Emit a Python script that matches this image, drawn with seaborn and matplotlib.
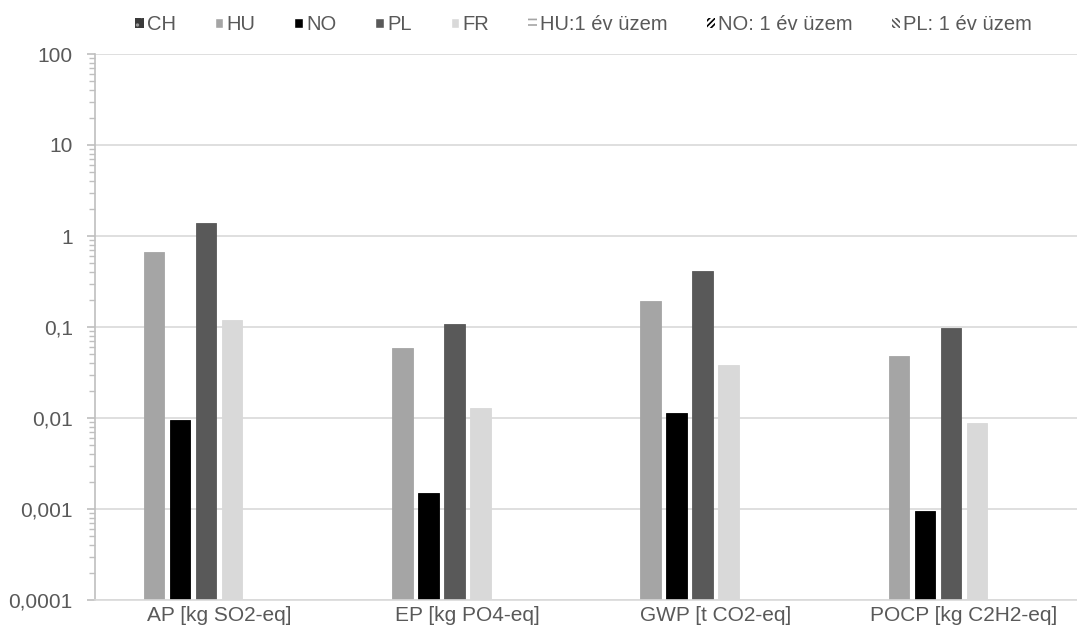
import numpy as np
import pandas as pd
import matplotlib
matplotlib.use("Agg")
import matplotlib.pyplot as plt
import seaborn as sns
from matplotlib.patches import Patch
from matplotlib.ticker import LogLocator, FixedLocator, NullFormatter

# ----------------------------
# data
# ----------------------------
categories = ["AP [kg SO2-eq]", "EP [kg PO4-eq]", "GWP [t CO2-eq]", "POCP [kg C2H2-eq]"]
series = ["CH", "HU", "NO", "PL", "FR", "HU:1 év üzem", "NO: 1 év üzem", "PL: 1 év üzem"]

ch_vals = [np.nan, np.nan, np.nan, np.nan]
hu_vals = [0.667, 0.0594, 0.193, 0.0486]
no_vals = [0.0096, 0.0015, 0.0114, 0.00095]
pl_vals = [1.39, 0.107, 0.412, 0.0975]
fr_vals = [0.1185, 0.0130, 0.0379, 0.0088]
hu1_vals = [np.nan, np.nan, np.nan, np.nan]
no1_vals = [np.nan, np.nan, np.nan, np.nan]
pl1_vals = [np.nan, np.nan, np.nan, np.nan]

ytick_vals = [0.0001, 0.001, 0.01, 0.1, 1, 10, 100]
ytick_labels = ["0,0001", "0,001", "0,01", "0,1", "1", "10", "100"]

all_vals = [ch_vals, hu_vals, no_vals, pl_vals, fr_vals, hu1_vals, no1_vals, pl1_vals]
rows = []
for s, vals in zip(series, all_vals):
    for c, v in zip(categories, vals):
        rows.append({"category": c, "series": s, "value": v})
df = pd.DataFrame(rows)

colors = {"CH": "#404040", "HU": "#A5A5A5", "NO": "#000000", "PL": "#595959",
          "FR": "#D9D9D9", "HU:1 év üzem": "#A5A5A5", "NO: 1 év üzem": "#000000",
          "PL: 1 év üzem": "#595959"}

# ----------------------------
# style
# ----------------------------
sns.set_style("white")
plt.rcParams["font.family"] = ["Liberation Sans", "DejaVu Sans"]
plt.rcParams["hatch.linewidth"] = 1.2
TXT = "#595959"

fig = plt.figure(figsize=(10.77, 6.39), dpi=100)
ax = fig.add_axes([95 / 1077, 39 / 639, 993 / 1077, 546 / 639])

sns.barplot(data=df, x="category", y="value", hue="series",
            order=categories, hue_order=series, palette=colors,
            errorbar=None, width=0.838, gap=0.21, legend=False,
            linewidth=0.6, ax=ax)
for p in ax.patches:
    p.set_edgecolor(p.get_facecolor())

ax.set_yscale("log")
ax.set_ylim(0.0001, 100)
ax.set_xlim(-0.5, 3.5)
ax.yaxis.set_major_locator(FixedLocator(ytick_vals))
ax.set_yticklabels(ytick_labels)
ax.yaxis.set_minor_locator(LogLocator(base=10, subs=np.arange(2, 10)))
ax.yaxis.set_minor_formatter(NullFormatter())

ax.grid(axis="y", which="major", color="#D9D9D9", linewidth=1.2)
ax.set_axisbelow(True)
for side in ["top", "right"]:
    ax.spines[side].set_visible(False)
ax.spines["left"].set_color("#BFBFBF")
ax.spines["left"].set_linewidth(1.2)
ax.spines["bottom"].set_color("#D9D9D9")
ax.spines["bottom"].set_linewidth(1.2)

ax.tick_params(axis="y", which="both", left=True, direction="out")
ax.tick_params(axis="y", which="major", length=6, width=1.2, color="#BFBFBF",
               labelsize=15, labelcolor=TXT, pad=10)
ax.tick_params(axis="y", which="minor", length=4, width=1.0, color="#BFBFBF")
ax.tick_params(axis="x", length=0, labelsize=15, labelcolor=TXT, pad=4)
ax.set_xlabel("")
ax.set_ylabel("")

# legend
handles = [
    Patch(facecolor="#3A3A3A", edgecolor="#9A9A9A", hatch="..", label="CH", linewidth=0),
    Patch(facecolor=colors["HU"], label="HU"),
    Patch(facecolor=colors["NO"], label="NO"),
    Patch(facecolor=colors["PL"], label="PL"),
    Patch(facecolor=colors["FR"], label="FR"),
    Patch(facecolor="white", edgecolor="#A5A5A5", hatch="---", label="HU:1 év üzem", linewidth=0),
    Patch(facecolor="white", edgecolor="#000000", hatch="//////", label="NO: 1 év üzem", linewidth=0),
    Patch(facecolor="white", edgecolor="#595959", hatch="\\\\\\\\\\\\", label="PL: 1 év üzem", linewidth=0),
]
leg = fig.legend(handles=handles, loc="upper center", bbox_to_anchor=(0.542, 1.005),
                 ncol=8, frameon=False, fontsize=14.5, handlelength=0.42,
                 handleheight=0.42, handletextpad=0.15, columnspacing=1.95)
for t in leg.get_texts():
    t.set_color(TXT)

fig.savefig("out.png", dpi=100)
